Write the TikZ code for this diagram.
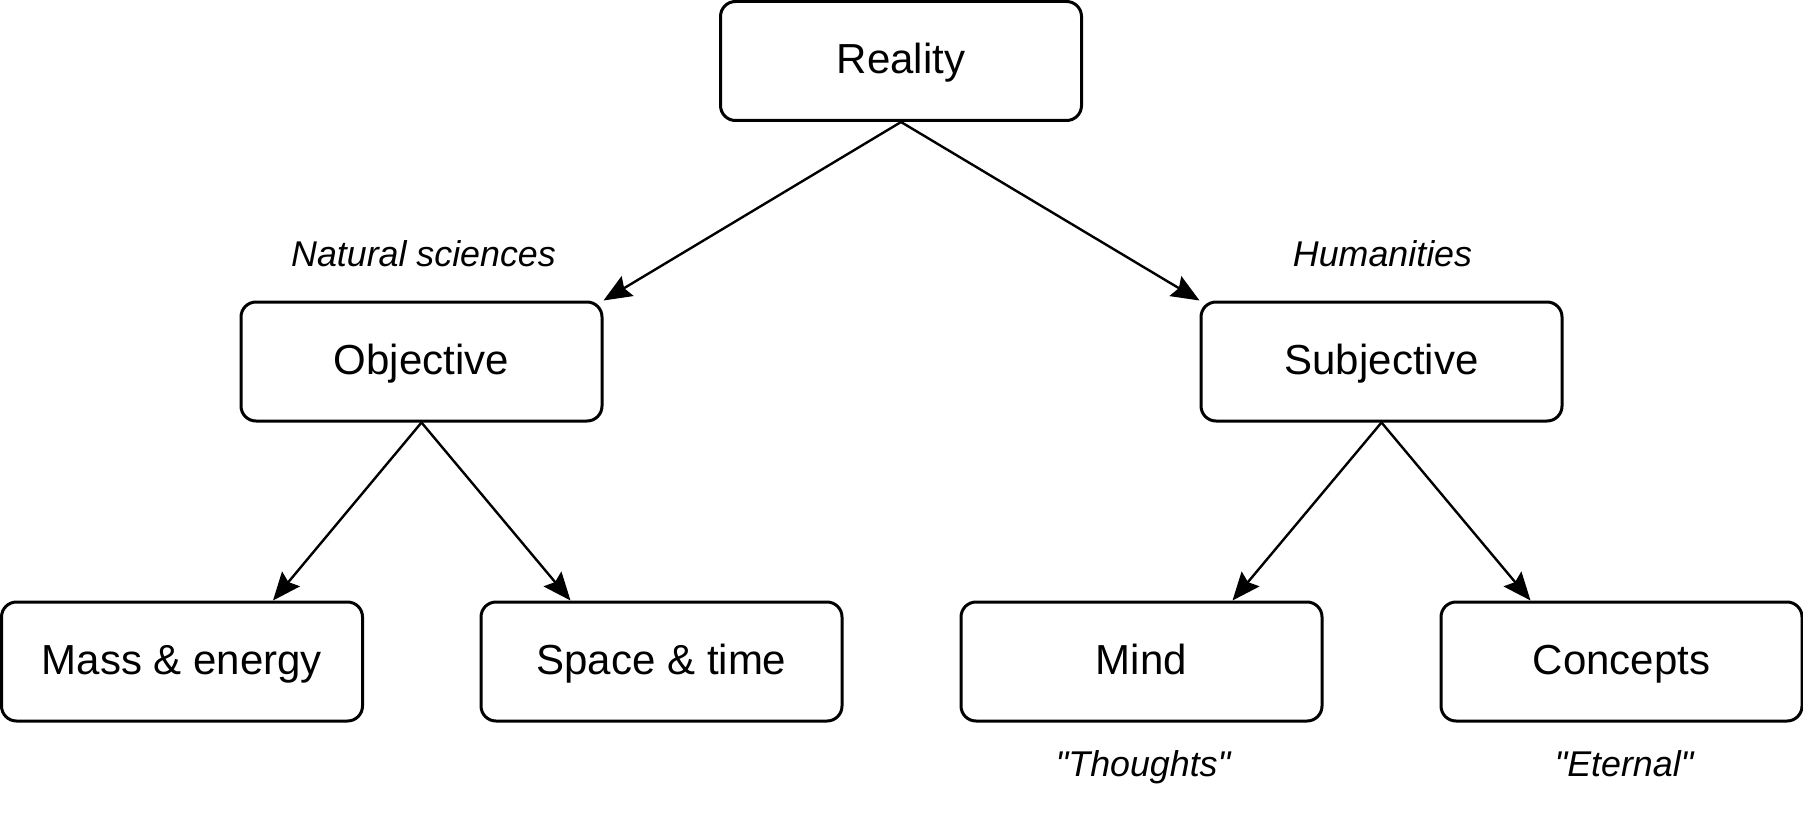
\documentclass[tikz,border=0pt]{standalone}
\usepackage{fontspec}
\setmainfont{Liberation Sans}
\usetikzlibrary{arrows.meta}

\begin{document}
\begin{tikzpicture}[
    x=0.5pt, y=-0.5pt,
    concept/.style={rectangle, rounded corners=7.5pt, draw=black, line width=1.5pt,
                 minimum width=180.5pt, minimum height=59.5pt, inner sep=0pt,
                 text height=15pt, text depth=2.5pt,
                 font=\fontsize{21}{24}\selectfont},
    tag/.style={anchor=base, inner sep=0pt, font=\fontsize{17.9}{21}\selectfont\itshape},
    link/.style={-{Stealth[length=14pt, width=11.5pt, inset=2pt]}, line width=1.2pt},
  ]
    \useasboundingbox (0,0) rectangle (1803,813);

    \node[concept] (real) at (901,61) {Reality};
    \node[concept] (obj) at (421.5,361.5) {Objective};
    \node[concept] (subj) at (1381.5,361.5) {Subjective};
    \node[concept] (mass) at (182,661.5) {Mass \& energy};
    \node[concept] (space) at (661.5,661.5) {Space \& time};
    \node[concept] (mind) at (1141.5,661.5) {Mind};
    \node[concept] (conc) at (1621.5,661.5) {Concepts};

    \node[tag] (natsci) at (423.5,266) {Natural sciences};
    \node[tag] (human) at (1382.5,266) {Humanities};
    \node[tag] (thought) at (1143,776) {\textquotedbl Thoughts\textquotedbl};
    \node[tag] (eternal) at (1624,776) {\textquotedbl Eternal\textquotedbl};

    \draw[link] (real.south) -- (obj.north east);
    \draw[link] (real.south) -- (subj.north west);
    \draw[link] (obj.south) -- ([xshift=45.5pt]mass.north);
    \draw[link] (obj.south) -- ([xshift=-45.5pt]space.north);
    \draw[link] (subj.south) -- ([xshift=45.5pt]mind.north);
    \draw[link] (subj.south) -- ([xshift=-45.5pt]conc.north);
  \end{tikzpicture}
\end{document}
